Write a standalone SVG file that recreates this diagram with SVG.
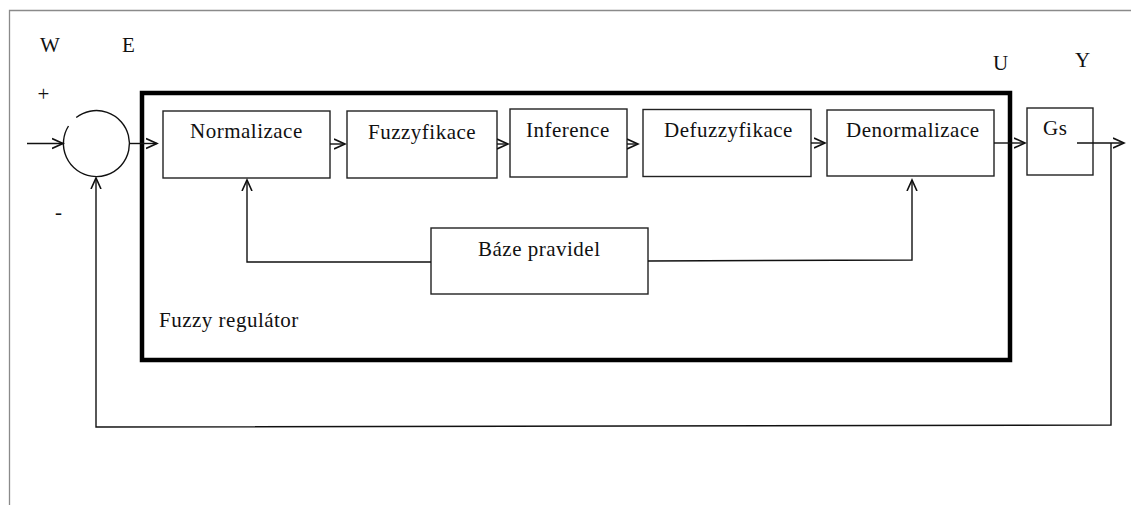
<svg xmlns="http://www.w3.org/2000/svg" width="1131" height="505" viewBox="0 0 1131 505">
<style>
.bg{fill:#fff}
.page{stroke:#8a8a8a;stroke-width:1.3;fill:none}
.box{fill:#fff;stroke:#222;stroke-width:1.4}
.frame{fill:none;stroke:#000;stroke-width:4.5}
.ln{fill:none;stroke:#111;stroke-width:1.4}
.t{font-family:"Liberation Serif","Times New Roman",serif;font-size:21px;fill:#111;letter-spacing:0.5px}
</style>
<defs>
<marker id="arr" markerUnits="userSpaceOnUse" markerWidth="14" markerHeight="14" refX="11" refY="6" orient="auto" viewBox="0 0 14 12">
<path d="M0,1 L11,6 L0,11" fill="none" stroke="#111" stroke-width="1.6"/>
</marker>
</defs>
<rect class="bg" x="0" y="0" width="1131" height="505"/>
<g id="page"><path class="page" d="M9.5,505 V10.5 H1131"/></g>

<g id="labels">
<text class="t" x="40" y="52">W</text>
<text class="t" x="122" y="52">E</text>
<text class="t" x="37.5" y="101">+</text>
<text class="t" x="55" y="219">-</text>
<text class="t" x="993" y="70">U</text>
<text class="t" x="1075" y="67">Y</text>
</g>

<g id="fuzzy-regulator">
<rect class="frame" x="142" y="93" width="868" height="267"/>
<text class="t" x="159" y="327">Fuzzy regulátor</text>
</g>

<g id="sum">
<path class="ln" d="M76.2,117.5 A33,33 0 1 1 68.5,126"/>
</g>

<g id="normalizace">
<rect class="box" x="163" y="111" width="167" height="67"/>
<text class="t" x="190" y="138">Normalizace</text>
</g>
<g id="fuzzyfikace">
<rect class="box" x="347" y="111" width="150" height="67"/>
<text class="t" x="368" y="139">Fuzzyfikace</text>
</g>
<g id="inference">
<rect class="box" x="510" y="109" width="117" height="68"/>
<text class="t" x="526" y="137">Inference</text>
</g>
<g id="defuzzyfikace">
<rect class="box" x="643" y="109.5" width="168" height="67"/>
<text class="t" x="664" y="137">Defuzzyfikace</text>
</g>
<g id="denormalizace">
<rect class="box" x="827" y="110" width="167" height="66"/>
<text class="t" x="846" y="137">Denormalizace</text>
</g>
<g id="gs">
<rect class="box" x="1027" y="108" width="66" height="67"/>
<text class="t" x="1043" y="135">Gs</text>
</g>
<g id="baze-pravidel">
<rect class="box" x="431" y="228" width="217" height="66"/>
<text class="t" x="478" y="256">Báze pravidel</text>
</g>

<g id="connectors">
<path class="ln" d="M27,143.5 H63" marker-end="url(#arr)"/>
<path class="ln" d="M130,143.5 H157" marker-end="url(#arr)"/>
<path class="ln" d="M330,144 H345" marker-end="url(#arr)"/>
<path class="ln" d="M497,144 H508" marker-end="url(#arr)"/>
<path class="ln" d="M627,144 H638" marker-end="url(#arr)"/>
<path class="ln" d="M811,143 H825" marker-end="url(#arr)"/>
<path class="ln" d="M994,143 H1025" marker-end="url(#arr)"/>
<path class="ln" d="M1077,143 H1124" marker-end="url(#arr)"/>
<path class="ln" d="M431,262 H247 V180" marker-end="url(#arr)"/>
<path class="ln" d="M648,261 L912,260 V180" marker-end="url(#arr)"/>
<path class="ln" d="M1111,143 V425 L96,427 V178" marker-end="url(#arr)"/>
</g>
</svg>
